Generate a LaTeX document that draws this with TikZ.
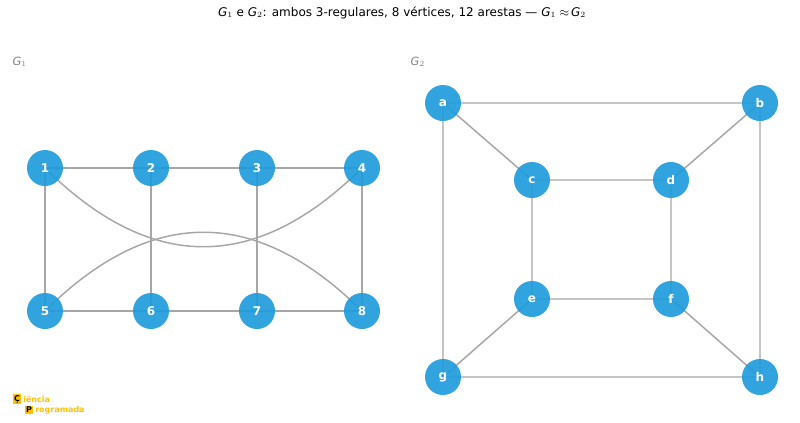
\documentclass[tikz,border=0pt]{standalone}
\usepackage{fontspec}
\setmainfont{DejaVu Sans}
\begin{document}
\begin{tikzpicture}[x=0.75pt,y=-0.75pt,
 v/.style={circle,fill=nodeb,fill opacity=0.92,text opacity=1,draw=none,minimum size=27pt,inner sep=0pt,text=white,font=\bfseries\fontsize{9}{10}\selectfont},
 e/.style={draw=gray!70,line width=1.1pt},
 lab/.style={text=gray,font=\fontsize{8.5}{10}\selectfont,anchor=west},
 logo/.style={text=logoy,anchor=west,font=\bfseries\fontsize{6}{6}\selectfont,inner sep=0pt},
 logob/.style={fill=logoy,inner sep=1pt,font=\bfseries\fontsize{6}{6}\selectfont}]
\definecolor{nodeb}{HTML}{1F9BDB}
\definecolor{logoy}{HTML}{FFC000}
\useasboundingbox (0,0) rectangle (800,422);
\node[font=\fontsize{9}{10}\selectfont] (t) at (402,13) {\textit{G}$_1$ e \textit{G}$_2$: ambos 3-regulares, 8 vértices, 12 arestas — \textit{G}$_1\approx$\,\textit{G}$_2$};
\node[lab] (l1) at (8,62) {\textit{G}$_1$};
\node[lab] (l2) at (406,62) {\textit{G}$_2$};
\coordinate (p1) at (45,168); \coordinate (p2) at (151,168); \coordinate (p3) at (257,168); \coordinate (p4) at (362,168);
\coordinate (p5) at (45,311); \coordinate (p6) at (151,311); \coordinate (p7) at (257,311); \coordinate (p8) at (362,311);
\draw[e] (p1)--(p2)--(p3)--(p4) (p5)--(p6)--(p7)--(p8) (p1)--(p5) (p2)--(p6) (p3)--(p7) (p4)--(p8);
\draw[e] (p1) .. controls (151,273) and (256,273) .. (p4);
\draw[e] (p5) .. controls (151,206) and (256,206) .. (p8);
\foreach \i in {1,...,8} \node[v] (n\i) at (p\i) {\i};
\coordinate (qa) at (443,103); \coordinate (qb) at (760,103); \coordinate (qc) at (532,180); \coordinate (qd) at (671,180);
\coordinate (qe) at (532,299); \coordinate (qf) at (671,299); \coordinate (qg) at (443,377); \coordinate (qh) at (760,377);
\draw[e] (qa)--(qb)--(qh)--(qg)--(qa) (qc)--(qd)--(qf)--(qe)--(qc) (qa)--(qc) (qb)--(qd) (qe)--(qg) (qf)--(qh);
\foreach \i in {a,...,h} \node[v] (m\i) at (q\i) {\i};
\node[logob] (c1) at (17,399) {Ç};
\node[logo] (c2) at (23,399) {iência};
\node[logob] (p) at (29,410) {P};
\node[logo] (p2t) at (35,410) {rogramada};
\end{tikzpicture}
\end{document}
